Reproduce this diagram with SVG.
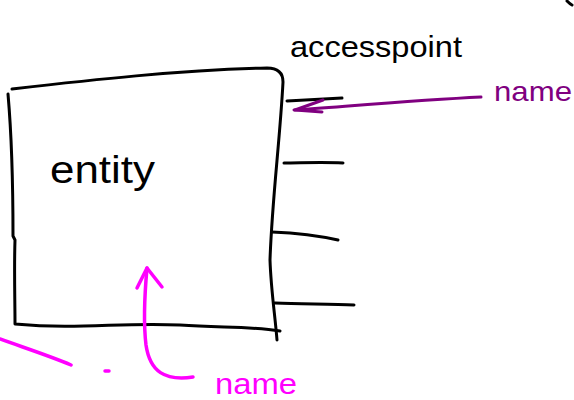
<svg xmlns="http://www.w3.org/2000/svg" width="574" height="400" viewBox="0 0 574 400">
<style>
.ink{fill:none;stroke:#000;stroke-width:3;stroke-linecap:round;stroke-linejoin:round}
.pur{fill:none;stroke:#800080;stroke-width:3;stroke-linecap:round;stroke-linejoin:round}
.mag{fill:none;stroke:#ff00ff;stroke-width:3.5;stroke-linecap:round;stroke-linejoin:round}
.hand{font-family:"Liberation Sans",Arial,sans-serif}
</style>
<rect width="574" height="400" fill="#fff"/>
<g id="entity">
<path class="ink" d="M12 89 C90 80 180 70 267 68 Q283 68 283 82 C280 140 272 200 270 260 C271 290 275 315 277 340"/>
<path class="ink" d="M8 94 C12 140 13 190 13 236 L15 240 C14 270 15 300 15 324 C80 330 120 322 180 325 C220 328 250 326 280 331"/>
<text class="hand" x="50" y="183" font-size="38" textLength="105" lengthAdjust="spacingAndGlyphs">entity</text>
</g>
<g id="accesspoints">
<text class="hand" x="290" y="57" font-size="30" textLength="172" lengthAdjust="spacingAndGlyphs">accesspoint</text>
<path class="ink" d="M287 101 L342 98"/>
<path class="ink" d="M284 163 C300 163 320 162 343 163"/>
<path class="ink" d="M272 232 C295 233 320 236 338 240"/>
<path class="ink" d="M275 303 C300 304 330 304 354 305"/>
<path class="ink" d="M567 1 Q570 4 572 5"/>
</g>
<g id="labels">
<text class="hand" x="494" y="101" font-size="28" fill="#800080" textLength="78" lengthAdjust="spacingAndGlyphs">name</text>
<text class="hand" x="215" y="394" font-size="30" fill="#ff00ff" textLength="82" lengthAdjust="spacingAndGlyphs">name</text>
</g>
<g id="connectors">
<path class="pur" d="M481 97 C420 100 350 106 294 110"/>
<path class="pur" d="M323 100 L295 110 L322 112"/>
<path class="mag" d="M193 377 C165 381 150 372 146 345 C143 320 145 290 147 268"/>
<path class="mag" d="M137 288 L147 268 L162 287"/>
<path class="mag" d="M0 339 C25 348 50 356 71 365"/>
<path class="mag" d="M105 371 L109 371"/>
</g>
</svg>
